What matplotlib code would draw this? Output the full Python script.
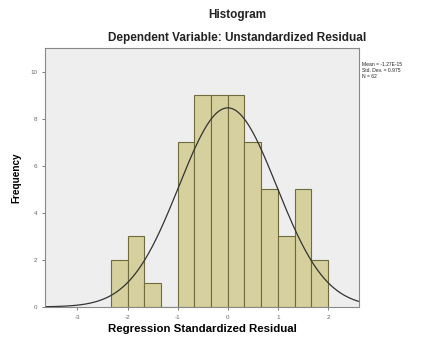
import numpy as np
import matplotlib
matplotlib.use("Agg")
import matplotlib.pyplot as plt

# bins de ancho 1/3 desde -2.333 hasta 2 (residuos estandarizados)
bin_edges = [-7/3, -2, -5/3, -4/3, -1, -2/3, -1/3, 0, 1/3, 2/3, 1, 4/3, 5/3, 2]
counts = [2, 3, 1, 0, 7, 9, 9, 9, 7, 5, 3, 5, 2]

mean = 0.0
std_dev = 0.975
n = 62

x_ticks = [-3, -2, -1, 0, 1, 2]
y_ticks = [0, 2, 4, 6, 8, 10]

plt.rcParams['font.family'] = ['Liberation Sans', 'DejaVu Sans']

fig = plt.figure(figsize=(4.27, 3.38), dpi=100)
ax = fig.add_axes([0.105, 0.092, 0.736, 0.766])
ax.set_facecolor('#eeeeee')

lefts = np.array(bin_edges[:-1])
widths = np.diff(bin_edges)
ax.bar(lefts, counts, width=widths, align='edge', color='#d6d09e',
       edgecolor='#6e6c3c', linewidth=0.8)

# curva normal escalada
xs = np.linspace(-3.65, 2.62, 400)
bw = 1/3
ys = n * bw * np.exp(-0.5 * ((xs - mean) / std_dev) ** 2) / (std_dev * np.sqrt(2 * np.pi))
ax.plot(xs, ys, color='#333333', linewidth=0.9)

ax.set_xlim(-3.65, 2.62)
ax.set_ylim(0, 11)
ax.set_xticks(x_ticks)
ax.set_xticklabels([str(t) for t in x_ticks])
ax.set_yticks(y_ticks)
ax.tick_params(labelsize=4.5, colors='#666666', length=2, width=0.6)
for s in ax.spines.values():
    s.set_color('#888888')
    s.set_linewidth(0.8)

ax.set_xlabel('Regression Standardized Residual', fontsize=8.2, fontweight='bold', labelpad=3)
ax.set_ylabel('Frequency', fontsize=7.2, fontweight='bold', labelpad=6)

fig.text(0.555, 0.955, 'Histogram', ha='center', va='center', fontsize=8.5, fontweight='bold',
         color='#222222')
fig.text(0.555, 0.888, 'Dependent Variable: Unstandardized Residual', ha='center', va='center',
         fontsize=8.5, fontweight='bold', color='#222222')

fig.text(0.848, 0.818, 'Mean = -1.27E-15\nStd. Dev. = 0.975\nN = 62', ha='left', va='top',
         fontsize=3.6, linespacing=1.3, color='#222222')

fig.savefig('out.png', dpi=100)
